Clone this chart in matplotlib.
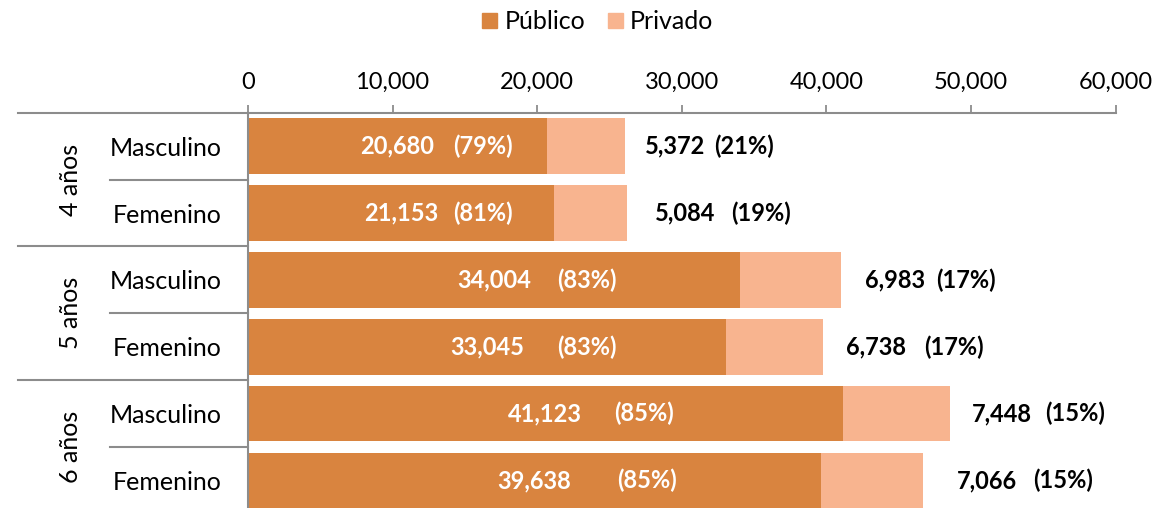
import numpy as np
import matplotlib.pyplot as plt
import matplotlib.transforms as mtransforms
from matplotlib.patches import Patch

# datos
grupos = ['4 años', '5 años', '6 años']
sexo = ['Masculino', 'Femenino', 'Masculino', 'Femenino', 'Masculino', 'Femenino']
publico = [20680, 21153, 34004, 33045, 41123, 39638]
privado = [5372, 5084, 6983, 6738, 7448, 7066]
pct_pub = [79, 81, 83, 83, 85, 85]
pct_priv = [21, 19, 17, 17, 15, 15]

# posiciones de las etiquetas (en unidades del eje x)
pub_pct_x = [16220, 16220, 23410, 23410, 27420, 27560]
priv_num_x = [29520, 30260, 44720, 43440, 52120, 51110]
priv_pct_x = [34310, 35480, 49660, 48800, 57200, 56370]

c_pub = '#D9843F'
c_priv = '#F8B48F'
gris = '#8C8C8C'

plt.rcParams['font.family'] = ['Lato', 'DejaVu Sans']

fig = plt.figure(figsize=(11.56, 5.08), dpi=100)
ax = fig.add_axes([0.2145, -0.0118, 0.7506, 0.7899])

y = np.arange(len(publico))
ax.barh(y, publico, height=0.83, color=c_pub, label='Público')
ax.barh(y, privado, left=publico, height=0.83, color=c_priv, label='Privado')

ax.set_xlim(0, 60000)
ax.set_ylim(5.5, -0.5)
ax.set_xticks(np.arange(0, 60001, 10000))
ax.set_xticklabels(['{:,}'.format(v) for v in range(0, 60001, 10000)])
ax.xaxis.tick_top()
ax.tick_params(axis='x', length=6, width=1.3, color=gris, pad=8, labelsize=17)
ax.set_yticks(y)
ax.set_yticklabels(sexo)
ax.tick_params(axis='y', length=0, pad=19, labelsize=18)

for s in ['right', 'bottom']:
    ax.spines[s].set_visible(False)
for s in ['top', 'left']:
    ax.spines[s].set_color(gris)
    ax.spines[s].set_linewidth(1.5)

for i in range(len(publico)):
    ax.text(publico[i] / 2, i, '{:,}'.format(publico[i]), color='white',
            fontsize=17, fontweight='bold', ha='center', va='center')
    ax.text(pub_pct_x[i], i, '({}%)'.format(pct_pub[i]), color='white',
            fontsize=17, fontweight='bold', ha='center', va='center')
    ax.text(priv_num_x[i], i, '{:,}'.format(privado[i]), color='black',
            fontsize=17, fontweight='bold', ha='center', va='center')
    ax.text(priv_pct_x[i], i, '({}%)'.format(pct_priv[i]), color='black',
            fontsize=17, fontweight='bold', ha='center', va='center')

# lineas separadoras a la izquierda
trans = mtransforms.blended_transform_factory(ax.transAxes, ax.transData)
for yb in [-0.5, 1.5, 3.5, 5.5]:
    ax.plot([-0.265, 0], [yb, yb], color=gris, lw=1.5, transform=trans, clip_on=False)
for yb in [0.5, 2.5, 4.5]:
    ax.plot([-0.159, 0], [yb, yb], color=gris, lw=1.5, transform=trans, clip_on=False)

for k, g in enumerate(grupos):
    ax.text(-0.205, 2 * k + 0.5, g, rotation=90, fontsize=18, ha='center', va='center',
            transform=trans)

handles = [Patch(color=c_pub, label='Público'), Patch(color=c_priv, label='Privado')]
fig.legend(handles=handles, loc='center', bbox_to_anchor=(0.517, 0.957), ncol=2,
           frameon=False, fontsize=18, handlelength=0.6, handleheight=0.6,
           handletextpad=0.3, columnspacing=0.9)

plt.savefig('out.png', dpi=100)
